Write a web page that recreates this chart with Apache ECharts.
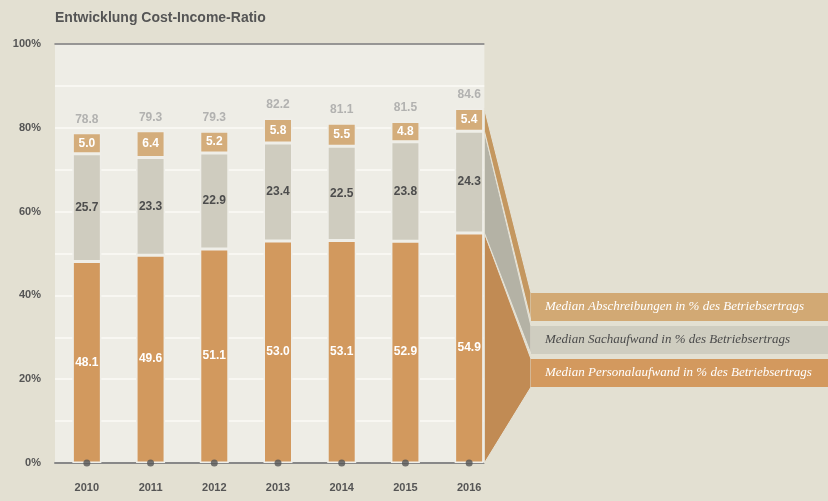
<!DOCTYPE html>
<html lang="de">
<head>
    <meta charset="UTF-8">
    <title>Entwicklung Cost-Income-Ratio</title>
    <script src="https://cdn.jsdelivr.net/npm/echarts@6/dist/echarts.min.js"></script>
    <style>
        html, body { margin: 0; padding: 0; background: #e3e0d2; }
        #chart { width: 828px; height: 501px; }
    </style>
</head>
<body>
<div id="chart"></div>
<script type="text/javascript">
    // Daten
    var years = ['2010', '2011', '2012', '2013', '2014', '2015', '2016'];
    var personal = [48.1, 49.6, 51.1, 53.0, 53.1, 52.9, 54.9];
    var sach = [25.7, 23.3, 22.9, 23.4, 22.5, 23.8, 24.3];
    var abschreibungen = [5.0, 6.4, 5.2, 5.8, 5.5, 4.8, 5.4];
    var totals = [78.8, 79.3, 79.3, 82.2, 81.1, 81.5, 84.6];
    var baseDots = [0, 0, 0, 0, 0, 0, 0];
    var names = [
        'Median Personalaufwand in % des Betriebsertrags',
        'Median Sachaufwand in % des Betriebsertrags',
        'Median Abschreibungen in % des Betriebsertrags'
    ];

    var cOrange = '#d2995e', cGray = '#cfccbf', cTan = '#d4ad7b';
    var barW = 29;
    var font = '"Liberation Sans", Arial, sans-serif';

    var chart = echarts.init(document.getElementById('chart'));

    function segLabel(color) {
        return {
            show: true,
            position: 'inside',
            color: color,
            fontFamily: font,
            fontWeight: 'bold',
            fontSize: 12,
            formatter: function (p) { return p.value.toFixed(1); }
        };
    }

    var option = {
        backgroundColor: '#e3e0d2',
        animation: false,
        title: {
            text: 'Entwicklung Cost-Income-Ratio',
            left: 50,
            top: 6,
            textStyle: { color: '#555', fontFamily: font, fontWeight: 'bold', fontSize: 14 }
        },
        grid: {
            left: 55, right: 327, top: 44, bottom: 38,
            show: true, backgroundColor: '#eeede6', borderWidth: 0
        },
        xAxis: [{
            type: 'category',
            data: years,
            axisTick: { show: false },
            axisLine: { lineStyle: { color: '#888', width: 2 } },
            axisLabel: { color: '#555', fontFamily: font, fontWeight: 'bold', fontSize: 11, margin: 19 }
        }, {
            type: 'category',
            position: 'top',
            data: years,
            axisTick: { show: false },
            axisLabel: { show: false },
            axisLine: { lineStyle: { color: '#777', width: 1.5 } }
        }],
        yAxis: {
            type: 'value',
            min: 0, max: 100, interval: 10,
            axisLine: { show: false },
            axisTick: { show: false },
            axisLabel: {
                color: '#555', fontFamily: font, fontWeight: 'bold', fontSize: 11, margin: 14,
                formatter: function (v) { return v % 20 === 0 ? v + '%' : ''; }
            },
            splitLine: { lineStyle: { color: '#fbfaf6', width: 1.5 } }
        },
        series: [{
            name: names[0], type: 'bar', stack: 'cir', barWidth: barW,
            data: personal,
            itemStyle: { color: cOrange, borderColor: '#efeee8', borderWidth: 1.5 },
            label: segLabel('#fff')
        }, {
            name: names[1], type: 'bar', stack: 'cir', barWidth: barW,
            data: sach,
            itemStyle: { color: cGray, borderColor: '#efeee8', borderWidth: 1.5 },
            label: segLabel('#4d4d4d')
        }, {
            name: names[2], type: 'bar', stack: 'cir', barWidth: barW,
            data: abschreibungen,
            itemStyle: { color: cTan, borderColor: '#efeee8', borderWidth: 1.5 },
            label: segLabel('#fff')
        }, {
            name: 'Summe', type: 'scatter', data: totals,
            symbolSize: 1, itemStyle: { color: 'rgba(0,0,0,0)' },
            label: {
                show: true, position: 'top', distance: 7,
                color: '#a3a3a3', fontFamily: font, fontWeight: 'bold', fontSize: 12,
                formatter: function (p) { return p.value.toFixed(1); }
            },
            z: 5
        }, {
            name: 'Basis', type: 'scatter', data: baseDots,
            symbolSize: 7, itemStyle: { color: '#555' },
            z: 6
        }]
    };
    chart.setOption(option);

    // Seitenflaeche an der letzten Saeule und Legendenfelder
    var last = years.length - 1;
    var xc = chart.convertToPixel({ xAxisIndex: 0 }, years[last]);
    var xr = xc + barW / 2 + 0.75;
    var yAt = function (v) { return chart.convertToPixel({ yAxisIndex: 0 }, v); };
    var y0 = yAt(0);
    var y1 = yAt(personal[last]);
    var y2 = yAt(personal[last] + sach[last]);
    var y3 = yAt(personal[last] + sach[last] + abschreibungen[last]);
    var gridRight = chart.getWidth() - 327;

    var boxX = 531, boxW = chart.getWidth() - boxX, boxH = 28;
    var boxes = [
        { top: 359, color: '#d3995e', side: '#c18b54', text: names[0], textColor: '#fff', yTop: y1, yBot: y0 },
        { top: 326, color: '#cfcdc0', side: '#b4b2a5', text: names[1], textColor: '#4a4a4a', yTop: y2, yBot: y1 },
        { top: 293, color: '#d2a974', side: '#c4975f', text: names[2], textColor: '#fff', yTop: y3, yBot: y2 }
    ];

    var graphics = [{
        type: 'rect', z: 1,
        shape: { x: xr, y: 40, width: gridRight - xr + 2, height: y0 - 36 },
        style: { fill: '#e3e0d2' }
    }];
    boxes.forEach(function (b) {
        graphics.push({
            type: 'polygon', z: 3,
            shape: { points: [[xr, b.yTop], [boxX, b.top], [boxX, b.top + boxH], [xr, b.yBot]] },
            style: { fill: b.side, stroke: '#e6e3d7', lineWidth: 1 }
        });
        graphics.push({
            type: 'rect', z: 3,
            shape: { x: boxX, y: b.top, width: boxW, height: boxH },
            style: { fill: b.color }
        });
        graphics.push({
            type: 'text', z: 4,
            x: boxX + 14, y: b.top + boxH / 2,
            style: {
                text: b.text, fill: b.textColor,
                font: 'italic 13px "Liberation Serif", "DejaVu Serif", serif',
                verticalAlign: 'middle', align: 'left'
            }
        });
    });
    chart.setOption({ graphic: graphics });
</script>
</body>
</html>
